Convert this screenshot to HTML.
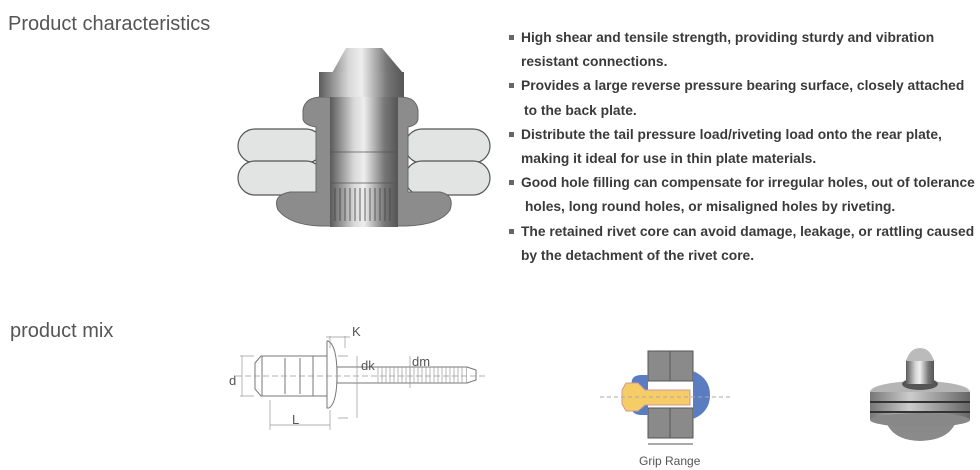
<!DOCTYPE html>
<html><head><meta charset="utf-8"><style>
body{margin:0;width:980px;height:470px;background:#fff;overflow:hidden;position:relative;font-family:"Liberation Sans",sans-serif}
.h{position:absolute;color:#555;font-size:20px}
.t{position:absolute;left:509px;font-size:13.8px;font-weight:bold;color:#3a3a3a;line-height:24.2px;top:26px;width:480px}
.t div{white-space:nowrap}
.b{display:inline-block;width:5px;height:5px;background:#666;margin-right:7px;vertical-align:2px}
</style></head><body>
<div class="h" style="left:8px;top:13px">Product characteristics</div>
<div class="h" style="left:10px;top:320px">product mix</div>
<div class="t">
<div><span class="b"></span>High shear and tensile strength, providing sturdy and vibration</div>
<div style="padding-left:12px">resistant connections.</div>
<div><span class="b"></span>Provides a large reverse pressure bearing surface, closely attached</div>
<div style="padding-left:15px">to the back plate.</div>
<div><span class="b"></span>Distribute the tail pressure load/riveting load onto the rear plate,</div>
<div style="padding-left:12px">making it ideal for use in thin plate materials.</div>
<div><span class="b"></span>Good hole filling can compensate for irregular holes, out of tolerance</div>
<div style="padding-left:16px">holes, long round holes, or misaligned holes by riveting.</div>
<div><span class="b"></span>The retained rivet core can avoid damage, leakage, or rattling caused</div>
<div style="padding-left:12px">by the detachment of the rivet core.</div>
</div>
<svg width="980" height="470" style="position:absolute;left:0;top:0">
<defs>
<linearGradient id="m" x1="0" x2="1"><stop offset="0" stop-color="#5a5a5a"/><stop offset=".35" stop-color="#d8d8d8"/><stop offset=".5" stop-color="#eee"/><stop offset=".8" stop-color="#777"/><stop offset="1" stop-color="#555"/></linearGradient>
<linearGradient id="p" x1="0" x2="1"><stop offset="0" stop-color="#777"/><stop offset=".4" stop-color="#ccc"/><stop offset=".7" stop-color="#999"/><stop offset="1" stop-color="#666"/></linearGradient>
</defs>
<g fill="#e2e4e4" stroke="#555" stroke-width="1.2">
<rect x="238" y="129" width="85" height="34" rx="17"/><rect x="238" y="161" width="85" height="34" rx="17"/>
<rect x="405" y="129" width="85" height="34" rx="17"/><rect x="405" y="161" width="85" height="34" rx="17"/>
</g>
<path d="M322,97 Q305,97 303,110 L303,118 Q303,125 316,127 L316,192 L290,192 Q272,195 278,210 Q290,225 320,226 L406,226 Q440,225 450,210 Q455,195 440,192 L408,192 L408,127 Q418,125 418,118 L418,110 Q416,97 400,97 Z" fill="#8c8c8c" stroke="#666"/>
<rect x="330" y="95" width="68" height="132" fill="url(#m)"/>
<path d="M332,73 L346,48 L382,48 L403,73 L403,95 L320,95 L320,73 Z" fill="url(#m)"/>
<rect x="319" y="72" width="85" height="25" fill="url(#m)"/>
<g stroke="#555" stroke-width=".8">
<line x1="330" y1="152" x2="398" y2="152"/><line x1="330" y1="183" x2="398" y2="183"/>
<path d="M335,188v33M340,188v33M345,188v33M350,188v33M355,188v33M360,188v33M365,188v33M370,188v33M375,188v33M380,188v33M385,188v33M390,188v33" stroke="#444"/>
</g>
<!-- bottom rivet drawing -->
<g stroke="#777" fill="#fff" stroke-width="1">
<path d="M255,363 L261,356 L328,356 L328,396 L261,396 L255,389 Z"/>
<line x1="262" y1="356" x2="262" y2="396"/><line x1="285" y1="358" x2="285" y2="394"/><line x1="300" y1="358" x2="300" y2="394"/><line x1="313" y1="356" x2="313" y2="396"/>
<path d="M328,341 Q337,345 337,375 Q337,403 329,408 L327,408 L327,341Z"/>
<rect x="337" y="367" width="130" height="16"/>
<path d="M467,367 L476,370 L476,380 L467,383"/>
</g>
<g stroke="#999" stroke-width=".7"><path d="M378,367v16M382,367v16M386,367v16M390,367v16M394,367v16M398,367v16M402,367v16M406,367v16M410,367v16M414,367v16M418,367v16M422,367v16M426,367v16M430,367v16M434,367v16M438,367v16M442,367v16M446,367v16M450,367v16M454,367v16M458,367v16M462,367v16"/>
<line x1="236" y1="376" x2="486" y2="376" stroke-dasharray="6,3"/>
<path d="M242,356v40M240,356h14M240,396h14M270,400v30M330,410v20M270,425h60M330,348v-12M345,348v-12M326,337h24M357,356v62M348,356h-10M348,418h-10M410,356v32"/></g>
<g font-size="13" fill="#555"><text x="229" y="385">d</text><text x="292" y="424">L</text><text x="352" y="336">K</text><text x="361" y="370">dk</text><text x="412" y="366">dm</text></g>
<!-- grip diagram -->
<g>
<rect x="648" y="351" width="45" height="30" fill="#8a8a8a" stroke="#555"/>
<rect x="648" y="408" width="45" height="30" fill="#8a8a8a" stroke="#555"/>
<line x1="670" y1="351" x2="670" y2="381" stroke="#555"/><line x1="670" y1="408" x2="670" y2="438" stroke="#555"/>
<path d="M693,371 Q710,378 710,395 Q710,412 693,419 Z" fill="#5a7cc0"/>
<path d="M640,375 Q630,376 632,385 L632,405 Q630,414 640,415 L648,415 L648,375Z" fill="#5a7cc0"/>
<path d="M626,383 L638,383 L645,390 L690,390 L690,405 L645,405 L638,411 L626,411 L622,404 L622,390Z" fill="#f5cc66" stroke="#c99"/>
<line x1="600" y1="397" x2="730" y2="397" stroke="#aaa" stroke-dasharray="4,3"/>
<line x1="648" y1="444" x2="693" y2="444" stroke="#555"/>
<text x="639" y="465" font-size="12" fill="#555">Grip Range</text>
</g>
<!-- photo -->
<g>
<path d="M885,418 Q890,440 920,441 Q952,440 957,418Z" fill="#8a8a8a"/>
<ellipse cx="920" cy="392" rx="50" ry="11" fill="#b5b5b5"/>
<rect x="870" y="392" width="100" height="28" fill="url(#p)"/>
<ellipse cx="920" cy="420" rx="50" ry="7" fill="#888"/>
<line x1="870" y1="402" x2="970" y2="402" stroke="#333" stroke-width="2"/>
<line x1="870" y1="412" x2="970" y2="412" stroke="#333" stroke-width="2"/>
<ellipse cx="920" cy="384" rx="18" ry="6" fill="#555"/>
<rect x="906" y="360" width="28" height="24" fill="url(#m)"/>
<path d="M906,361 Q910,348 920,348 Q930,348 934,361Z" fill="#bbb"/>
</g>
</svg>
</body></html>
